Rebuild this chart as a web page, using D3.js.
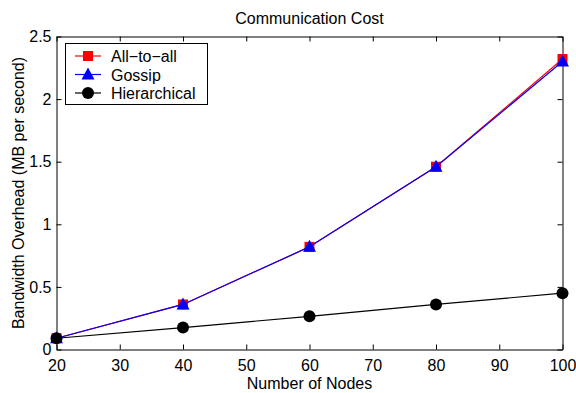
<!DOCTYPE html>
<html>
<head>
<meta charset="utf-8">
<script src="https://cdn.jsdelivr.net/npm/d3@7.9.0/dist/d3.min.js"></script>
<style>
  body { margin: 0; background: #fff; }
  svg { font-family: "Liberation Sans", Arial, sans-serif; }
</style>
</head>
<body>
<svg id="chart" width="576" height="393"></svg>
<script>
const nodes = [20, 40, 60, 80, 100];
const allToAll = [0.09, 0.36, 0.82, 1.46, 2.32];
const gossip = [0.09, 0.36, 0.82, 1.46, 2.30];
const hierarchical = [0.09, 0.175, 0.265, 0.36, 0.45];
const xTicks = [20, 30, 40, 50, 60, 70, 80, 90, 100];
const yTicks = [0, 0.5, 1, 1.5, 2, 2.5];

const series = [
    { name: 'All\u2212to\u2212all', values: allToAll, color: '#ff0000', marker: 'square' },
    { name: 'Gossip', values: gossip, color: '#0000ff', marker: 'triangle' },
    { name: 'Hierarchical', values: hierarchical, color: '#000000', marker: 'circle' },
];

const margin = { top: 36.5, right: 13.5, bottom: 43.5, left: 56.5 };
const width = 576;
const height = 393;
const fontSize = 16;

const svg = d3.select('#chart');

const xScale = d3.scaleLinear().domain([20, 100]).range([margin.left, width - margin.right]);
const yScale = d3.scaleLinear().domain([0, 2.5]).range([height - margin.bottom, margin.top]);

// axes with inward ticks on all four sides
svg.append('g')
    .attr('transform', `translate(0, ${height - margin.bottom})`)
    .call(d3.axisBottom(xScale).tickValues(xTicks).tickSizeInner(-5).tickSizeOuter(0).tickPadding(10))
    .call((g) => g.selectAll('text').attr('font-size', fontSize).attr('fill', '#000'));

svg.append('g')
    .attr('transform', `translate(0, ${margin.top})`)
    .call(d3.axisTop(xScale).tickValues(xTicks).tickSizeInner(-5).tickSizeOuter(0).tickFormat(''));

svg.append('g')
    .attr('transform', `translate(${margin.left}, 0)`)
    .call(d3.axisLeft(yScale).tickValues(yTicks).tickSizeInner(-5).tickSizeOuter(0).tickPadding(5).tickFormat(d3.format('~g')))
    .call((g) => g.selectAll('text').attr('font-size', fontSize).attr('fill', '#000'));

svg.append('g')
    .attr('transform', `translate(${width - margin.right}, 0)`)
    .call(d3.axisRight(yScale).tickValues(yTicks).tickSizeInner(-5).tickSizeOuter(0).tickFormat(''));

svg.selectAll('.domain').attr('stroke', '#000');
svg.selectAll('.tick line').attr('stroke', '#000');

// labels
svg.append('text')
    .attr('x', (margin.left + width - margin.right) / 2)
    .attr('y', 24)
    .attr('text-anchor', 'middle')
    .attr('font-size', fontSize)
    .text('Communication Cost');

svg.append('text')
    .attr('x', (margin.left + width - margin.right) / 2)
    .attr('y', 389)
    .attr('text-anchor', 'middle')
    .attr('font-size', fontSize)
    .text('Number of Nodes');

svg.append('text')
    .attr('transform', `translate(24, ${(margin.top + height - margin.bottom) / 2}) rotate(-90)`)
    .attr('text-anchor', 'middle')
    .attr('font-size', fontSize)
    .text('Bandwidth Overhead (MB per second)');

function drawMarker(g, type, color, x, y) {
    if (type === 'square') {
        g.append('rect').attr('x', x - 5).attr('y', y - 5).attr('width', 10).attr('height', 10).attr('fill', color);
    } else if (type === 'triangle') {
        g.append('path')
            .attr('d', `M${x},${y - 7}L${x + 6.5},${y + 5}L${x - 6.5},${y + 5}Z`)
            .attr('fill', color);
    } else {
        g.append('circle').attr('cx', x).attr('cy', y).attr('r', 6).attr('fill', color);
    }
}

const line = d3.line().x((d) => xScale(d[0])).y((d) => yScale(d[1]));

for (const s of series) {
    const pts = nodes.map((n, i) => [n, s.values[i]]);
    const g = svg.append('g');
    g.append('path')
        .attr('d', line(pts))
        .attr('fill', 'none')
        .attr('stroke', s.color)
        .attr('stroke-width', 1.2);
    for (const p of pts) drawMarker(g, s.marker, s.color, xScale(p[0]), yScale(p[1]));
}

// legend
const legend = svg.append('g');
legend.append('rect')
    .attr('x', 65.5).attr('y', 43.5).attr('width', 142).attr('height', 61)
    .attr('fill', '#fff').attr('stroke', '#000');
series.forEach((s, i) => {
    const y = 56 + i * 18.5;
    legend.append('line').attr('x1', 75).attr('x2', 101).attr('y1', y).attr('y2', y)
        .attr('stroke', s.color).attr('stroke-width', 1.2);
    drawMarker(legend, s.marker, s.color, 88, y);
    legend.append('text').attr('x', 111).attr('y', y + 6).attr('font-size', fontSize).text(s.name);
});
</script>
</body>
</html>
